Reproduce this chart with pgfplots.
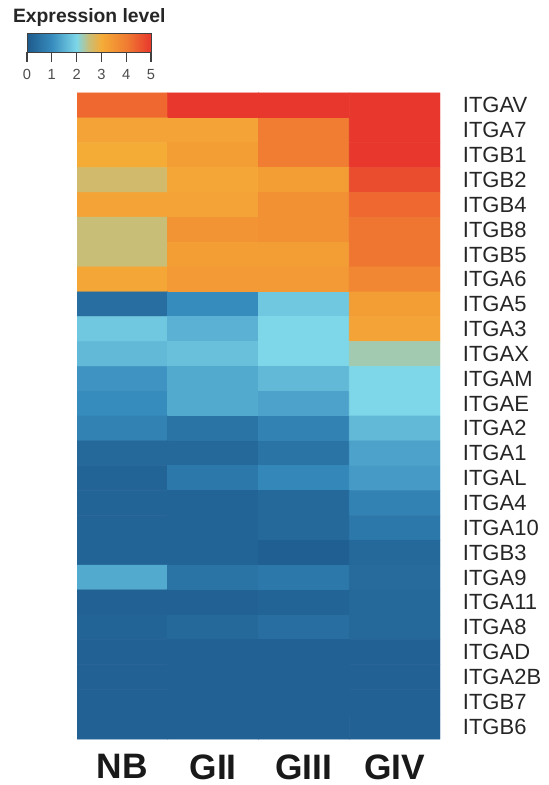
\documentclass[border=0pt]{standalone}
\usepackage{pgfplots}
\pgfplotsset{compat=1.18}
\usepackage{fontspec}
\setmainfont{Liberation Sans}
\pgfplotsset{/pgf/number format/assume math mode=true}
\pgfplotstableread{
x y c
0 0 4.3
1 0 5.0
2 0 5.0
3 0 5.0
0 1 3.2
1 1 3.2
2 1 4.0
3 1 5.0
0 2 3.0
1 2 3.3
2 2 4.0
3 2 5.0
0 3 2.6
1 3 3.1
2 3 3.3
3 3 4.7
0 4 3.2
1 4 3.2
2 4 3.6
3 4 4.3
0 5 2.5
1 5 3.5
2 5 3.6
3 5 4.1
0 6 2.5
1 6 3.3
2 6 3.3
3 6 4.1
0 7 3.1
1 7 3.4
2 7 3.4
3 7 3.8
0 8 0.4
1 8 1.0
2 8 1.8
3 8 3.3
0 9 1.8
1 9 1.5
2 9 2.0
3 9 3.2
0 10 1.6
1 10 1.7
2 10 2.0
3 10 2.25
0 11 1.1
1 11 1.4
2 11 1.6
3 11 2.0
0 12 1.0
1 12 1.4
2 12 1.3
3 12 2.0
0 13 0.8
1 13 0.5
2 13 0.8
3 13 1.6
0 14 0.3
1 14 0.3
2 14 0.5
3 14 1.3
0 15 0.2
1 15 0.6
2 15 0.9
3 15 1.2
0 16 0.2
1 16 0.2
2 16 0.3
3 16 0.8
0 17 0.2
1 17 0.2
2 17 0.3
3 17 0.6
0 18 0.2
1 18 0.2
2 18 0.1
3 18 0.3
0 19 1.4
1 19 0.5
2 19 0.6
3 19 0.35
0 20 0.15
1 20 0.15
2 20 0.2
3 20 0.3
0 21 0.2
1 21 0.3
2 21 0.4
3 21 0.3
0 22 0.15
1 22 0.15
2 22 0.15
3 22 0.15
0 23 0.15
1 23 0.15
2 23 0.15
3 23 0.15
0 24 0.15
1 24 0.15
2 24 0.15
3 24 0.15
0 25 0.15
1 25 0.15
2 25 0.15
3 25 0.15
}\heat
\begin{document}
\begin{tikzpicture}
\useasboundingbox (0,0) rectangle (411.75pt,588.75pt);
\begin{axis}[
  at={(57.75pt,519pt)}, anchor=north west,
  scale only axis, width=272.25pt, height=484.5pt,
  xmin=-0.5, xmax=3.5, ymin=-0.5, ymax=25.5, y dir=reverse,
  axis line style={draw=none}, major tick length=0pt,
  xtick={0,1,2,3}, xticklabels={NB,GII,GIII,GIV},
  ytick={0,...,25},
  yticklabels={ITGAV,ITGA7,ITGB1,ITGB2,ITGB4,ITGB8,ITGB5,ITGA6,ITGA5,ITGA3,ITGAX,ITGAM,ITGAE,ITGA2,ITGA1,ITGAL,ITGA4,ITGA10,ITGB3,ITGA9,ITGA11,ITGA8,ITGAD,ITGA2B,ITGB7,ITGB6},
  yticklabel pos=right,
  xticklabel style={font=\fontsize{26.5}{28}\selectfont\bfseries, text=black!90, inner sep=0pt, anchor=north, yshift=-11.5pt},
  yticklabel style={font=\fontsize{16.5}{18}\selectfont, text=black!85, inner sep=0pt, anchor=west, xshift=17pt},
  colormap={heat}{rgb255(0cm)=(30,90,140); rgb255(1cm)=(55,140,190); rgb255(2cm)=(125,215,232); rgb255(2.5cm)=(200,190,120); rgb255(3cm)=(245,172,55); rgb255(4cm)=(240,125,50); rgb255(5cm)=(232,55,45)},
  point meta min=0, point meta max=5,
  colorbar horizontal,
  colorbar style={
    at={(-0.1377,1.0929)}, anchor=north west,
    scale only axis, width=93pt, height=14.25pt,
    xtick={0,1,2,3,4,5}, xtick pos=left, ytick=\empty,
    major tick length=7.5pt, tick align=outside,
    tick style={black!75, line width=0.8pt},
    axis line style={black!75, line width=0.6pt},
    xticklabel style={font=\fontsize{11}{12}\selectfont, text=black!70, yshift=-2pt},
  },
]
\addplot[matrix plot, mesh/cols=4, point meta=explicit] table[x=x, y=y, meta=c] {\heat};
\end{axis}
\node[font=\fontsize{14.5}{16}\selectfont\bfseries, text=black!85] at (67pt,575.5pt) {Expression level};
\end{tikzpicture}
\end{document}
